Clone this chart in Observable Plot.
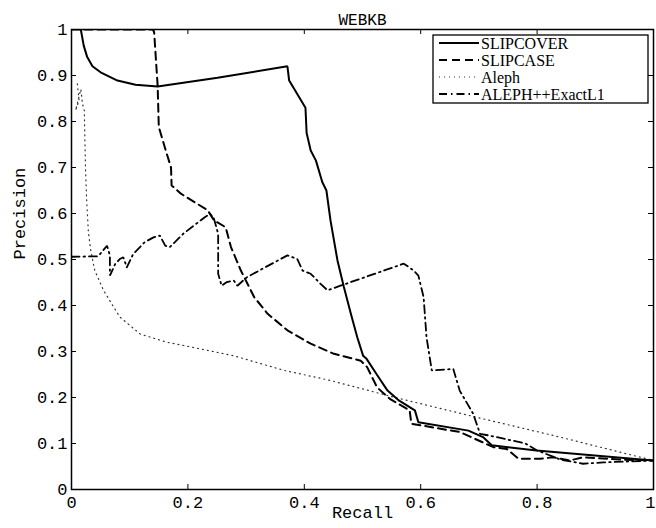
<!DOCTYPE html>
<html>
<head>
<meta charset="utf-8">
<script src="https://cdn.jsdelivr.net/npm/d3@7"></script>
<script src="https://cdn.jsdelivr.net/npm/@observablehq/plot@0.6"></script>
<style>
  html, body { margin: 0; padding: 0; background: #fff; }
  #chart svg { display: block; }
</style>
</head>
<body>
<div id="chart"></div>
<script>
// ---- data ----
const chartTitle = "WEBKB";
const xLabel = "Recall";
const yLabel = "Precision";
const xTicks = [0, 0.2, 0.4, 0.6, 0.8, 1];
const yTicks = [0, 0.1, 0.2, 0.3, 0.4, 0.5, 0.6, 0.7, 0.8, 0.9, 1];
const seriesNames = ["SLIPCOVER", "SLIPCASE", "Aleph", "ALEPH++ExactL1"];

const slipcoverRecall = [0.016,0.021,0.027,0.036,0.05,0.079,0.11,0.148,0.251,0.371,0.374,0.402,0.404,0.411,0.42,0.431,0.438,0.445,0.457,0.468,0.48,0.491,0.501,0.507,0.524,0.543,0.563,0.59,0.596,0.682,0.707,0.722,0.799,1.0];
const slipcoverPrecision = [1.0,0.965,0.94,0.92,0.907,0.889,0.88,0.876,0.895,0.92,0.889,0.83,0.775,0.737,0.715,0.668,0.65,0.585,0.498,0.44,0.382,0.331,0.291,0.284,0.251,0.215,0.193,0.172,0.146,0.128,0.114,0.096,0.085,0.063];

const slipcaseRecall = [0,0.14,0.142,0.148,0.15,0.162,0.171,0.172,0.188,0.234,0.245,0.265,0.274,0.291,0.314,0.337,0.371,0.411,0.451,0.497,0.508,0.525,0.547,0.581,0.584,0.667,0.725,0.748,0.768,0.805,0.828,0.856,0.879,0.942,1.0];
const slipcasePrecision = [1,1,0.994,0.878,0.788,0.737,0.70,0.661,0.643,0.607,0.585,0.57,0.527,0.476,0.418,0.382,0.346,0.317,0.295,0.28,0.266,0.222,0.197,0.172,0.143,0.125,0.092,0.088,0.067,0.067,0.07,0.063,0.07,0.065,0.063];

const alephRecall = [0.01,0.013,0.007,0.016,0.019,0.022,0.024,0.026,0.029,0.033,0.04,0.055,0.083,0.118,0.164,0.193,0.278,0.365,0.445,0.553,0.696,0.839,1.0];
const alephPrecision = [0.882,0.846,0.824,0.87,0.838,0.824,0.70,0.63,0.56,0.52,0.476,0.433,0.375,0.338,0.32,0.313,0.291,0.259,0.237,0.201,0.157,0.114,0.063];

const alephExactRecall = [0,0.046,0.061,0.066,0.066,0.075,0.083,0.089,0.095,0.106,0.126,0.141,0.152,0.161,0.169,0.192,0.229,0.238,0.244,0.252,0.252,0.258,0.267,0.279,0.285,0.302,0.371,0.388,0.397,0.411,0.428,0.44,0.462,0.571,0.588,0.596,0.605,0.61,0.619,0.656,0.667,0.69,0.702,0.719,0.78,0.8,0.84,0.879,0.914,1.0];
const alephExactPrecision = [0.506,0.507,0.53,0.509,0.465,0.49,0.501,0.505,0.483,0.512,0.538,0.548,0.552,0.53,0.527,0.556,0.592,0.599,0.592,0.556,0.469,0.443,0.451,0.454,0.443,0.462,0.509,0.501,0.476,0.469,0.447,0.433,0.443,0.491,0.476,0.465,0.418,0.331,0.259,0.262,0.215,0.165,0.121,0.117,0.1,0.085,0.065,0.056,0.059,0.063];

// ---- styles ----
const styles = {
  "SLIPCOVER": {stroke: "#000", strokeWidth: 2, dash: null},
  "SLIPCASE": {stroke: "#000", strokeWidth: 2, dash: "8,5"},
  "Aleph": {stroke: "#333", strokeWidth: 1.2, dash: "1,4"},
  "ALEPH++ExactL1": {stroke: "#000", strokeWidth: 1.8, dash: "8,4,1.5,4"}
};

const zip = (xs, ys, name) => xs.map((x, i) => ({recall: x, precision: ys[i], series: name}));
const seriesData = {
  "SLIPCOVER": zip(slipcoverRecall, slipcoverPrecision, "SLIPCOVER"),
  "SLIPCASE": zip(slipcaseRecall, slipcasePrecision, "SLIPCASE"),
  "Aleph": zip(alephRecall, alephPrecision, "Aleph"),
  "ALEPH++ExactL1": zip(alephExactRecall, alephExactPrecision, "ALEPH++ExactL1")
};

const W = 656, H = 528;
const mL = 71, mR = 3, mT = 29, mB = 39;
const innerW = W - mL - mR, innerH = H - mT - mB;
const tickLen = 5;
const mono = "'Liberation Mono', 'DejaVu Sans Mono', monospace";

const lineMarks = ["Aleph", "SLIPCASE", "ALEPH++ExactL1", "SLIPCOVER"].map(name => {
  const s = styles[name];
  return Plot.line(seriesData[name], {
    x: "recall", y: "precision",
    stroke: s.stroke, strokeWidth: s.strokeWidth,
    strokeDasharray: s.dash, strokeLinejoin: "miter", clip: true
  });
});

const chart = Plot.plot({
  width: W, height: H,
  marginLeft: mL, marginRight: mR, marginTop: mT, marginBottom: mB,
  style: {fontFamily: mono, fontSize: "17px", color: "#000", background: "#fff"},
  x: {domain: [0, 1], ticks: xTicks, label: null},
  y: {domain: [0, 1], ticks: yTicks, label: null},
  marks: [
    ...lineMarks,
    // inward ticks on all four sides
    Plot.tickX(xTicks, {x: d => d, insetTop: innerH - tickLen, stroke: "#000", strokeWidth: 1}),
    Plot.tickX(xTicks, {x: d => d, insetBottom: innerH - tickLen, stroke: "#000", strokeWidth: 1}),
    Plot.tickY(yTicks, {y: d => d, insetRight: innerW - tickLen, stroke: "#000", strokeWidth: 1}),
    Plot.tickY(yTicks, {y: d => d, insetLeft: innerW - tickLen, stroke: "#000", strokeWidth: 1}),
    Plot.axisX(xTicks.slice(0, -1), {tickSize: 0, tickPadding: 6, tickFormat: d => String(d), label: null, fontSize: 17}),
    Plot.axisX(xTicks.slice(-1), {tickSize: 0, tickPadding: 6, tickFormat: d => String(d), label: null, fontSize: 17, textAnchor: "end", dx: 2}),
    Plot.axisY(yTicks, {tickSize: 0, tickPadding: 4, tickFormat: d => String(d), label: null, fontSize: 17}),
    Plot.frame({stroke: "#000", strokeWidth: 1.5}),
    Plot.text([chartTitle], {frameAnchor: "top", dy: -16, fontSize: 16, fontFamily: mono}),
    Plot.text([xLabel], {frameAnchor: "bottom", dy: 28, fontSize: 17, fontFamily: mono}),
    Plot.text([yLabel], {frameAnchor: "left", rotate: -90, dx: -52, fontSize: 17, fontFamily: mono})
  ]
});
document.getElementById("chart").appendChild(chart);

// ---- legend (inside plot, top-right) ----
const svg = d3.select(chart);
const lg = svg.append("g").attr("class", "legend").attr("text-anchor", "start");
const box = {x: 433, y: 35, w: 215, h: 68};
lg.append("rect").attr("x", box.x).attr("y", box.y).attr("width", box.w).attr("height", box.h)
  .attr("fill", "#fff").attr("stroke", "#000").attr("stroke-width", 1.3);
const rowY = [43, 60, 77, 94];
seriesNames.forEach((name, i) => {
  const s = styles[name];
  lg.append("line").attr("x1", box.x + 6).attr("x2", box.x + 46).attr("y1", rowY[i]).attr("y2", rowY[i])
    .attr("stroke", s.stroke).attr("stroke-width", s.strokeWidth)
    .attr("stroke-dasharray", s.dash);
  lg.append("text").attr("x", box.x + 48).attr("y", rowY[i]).attr("dy", "0.35em")
    .attr("text-anchor", "start")
    .attr("font-family", "'Liberation Serif', 'Times New Roman', serif").attr("font-size", 16)
    .attr("fill", "#000").text(name);
});
</script>
</body>
</html>
